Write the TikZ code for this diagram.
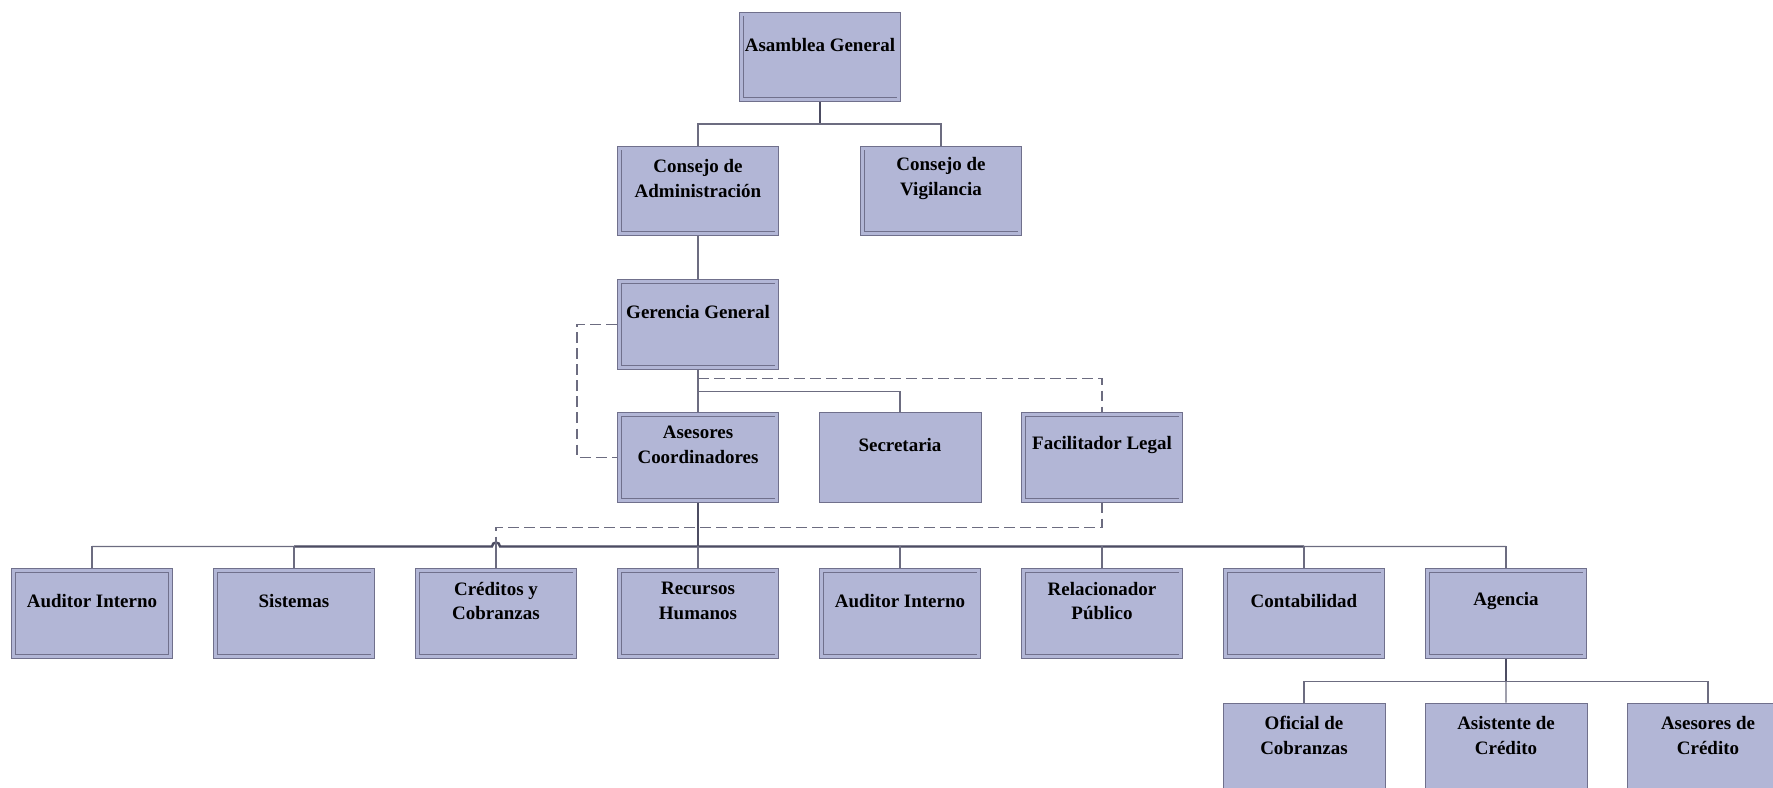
\documentclass[tikz,border=0pt]{standalone}
\usepackage{fontspec}
\setmainfont{Liberation Serif}
\usepackage{tikz}
\usetikzlibrary{positioning, calc}
\definecolor{BoxFill}{HTML}{B2B6D6}
\definecolor{BoxLine}{HTML}{70708C}
\definecolor{LinkGray}{HTML}{6C6C80}
\definecolor{LinkDark}{HTML}{4C4C62}
\tikzset{
  % Box styles
  plainbox/.style={rectangle, draw=BoxLine, fill=BoxFill, line width=0.6pt, minimum width=4.05cm, minimum height=2.25cm, inner sep=0pt},
  unitbox/.style={plainbox, double=BoxFill, double distance=0.08cm, line width=0.5pt, minimum width=3.94cm, minimum height=2.14cm, outer sep=1.6pt},
  boxtext/.style={font=\fontsize{13.5}{17.5}\selectfont\bfseries, align=center, yshift=0.31cm, inner sep=0pt},
  orgunit/.style={unitbox, label={[boxtext]center:#1}},
  orgplain/.style={plainbox, label={[boxtext]center:#1}},
  % Line styles
  link/.style={draw=LinkGray, line width=0.9pt},
  thicklink/.style={draw=LinkDark, line width=1.7pt},
  dashlink/.style={draw=LinkGray, line width=0.9pt, dash pattern=on 0.27cm off 0.13cm}
}

\begin{document}
\begin{tikzpicture}
  \useasboundingbox (0,0) rectangle (44.325,-19.7);

  % Direction
  \node[orgunit=Asamblea General] (asam) at (20.5,-1.425) {};
  \node[orgunit={Consejo de\\Administración}] (cadm) at (17.45,-4.775) {};
  \node[orgunit={Consejo de\\Vigilancia}] (cvig) at (23.525,-4.775) {};
  \node[orgunit=Gerencia General] (ger) at (17.45,-8.1125) {};

  % Staff
  \node[orgunit={Asesores\\Coordinadores}] (ases) at (17.45,-11.4375) {};
  \node[orgplain=Secretaria] (secr) at (22.5,-11.4375) {};
  \node[orgunit=Facilitador Legal] (facil) at (27.55,-11.4375) {};

  % Departments
  \foreach \i/\name/\txt in {0/aud1/Auditor Interno, 1/sist/Sistemas, 2/cred/{Créditos y\\Cobranzas}, 3/rrhh/{Recursos\\Humanos}, 4/aud2/Auditor Interno, 5/rel/{Relacionador\\Público}, 6/cont/Contabilidad, 7/agen/Agencia} {
    \node[orgunit=\txt] (\name) at ({2.3+5.05*\i},-15.3375) {};
  }

  % Agency staff
  \foreach \i/\name/\txt in {0/ofic/{Oficial de\\Cobranzas}, 1/asis/{Asistente de\\Crédito}, 2/asec/{Asesores de\\Crédito}} {
    \node[orgplain=\txt] (\name) at ({32.6+5.05*\i},-18.7) {};
  }

  % Connections
  \draw[thicklink] (asam.south) -- ++(0,-0.55) coordinate (j1);
  \draw[link] (cadm.north) |- (j1) -| (cvig.north);
  \draw[link] (cadm.south) -- (ger.north);
  \draw[link] (ger.south) -- (ases.north);
  \draw[link] ($(ger.south)+(0,-0.55)$) -| (secr.north);
  \draw[dashlink] ($(ger.south)+(0,-0.225)$) -| (facil.north);
  \draw[dashlink] (ger.west) -- ++(-1,0) |- (ases.west);

  % Bus
  \coordinate (busL) at ($(aud1.north)+(0,0.55)$);
  \draw[thicklink] (ases.south) -- (ases.south |- busL);
  \draw[link] (busL) -- ($(cred.north |- busL)+(-0.1,0)$) arc[start angle=180, end angle=0, radius=0.1] -- (agen.north |- busL);
  \draw[thicklink] (sist.north |- busL) -- ($(cred.north |- busL)+(-0.1,0)$) arc[start angle=180, end angle=0, radius=0.1] -- (cont.north |- busL);
  \foreach \name in {aud1,sist,cred,rrhh,aud2,rel,cont,agen}
    \draw[link] (\name.north) -- (\name.north |- busL);
  \draw[dashlink] (facil.south) -- ++(0,-0.625) -| (cred.north);

  % Agency
  \draw[thicklink] (agen.south) -- ++(0,-0.575) coordinate (j3);
  \draw[link] (ofic.north) |- (j3) -| (asec.north);
  \draw[link] (j3) -- (asis.north);
\end{tikzpicture}
\end{document}
